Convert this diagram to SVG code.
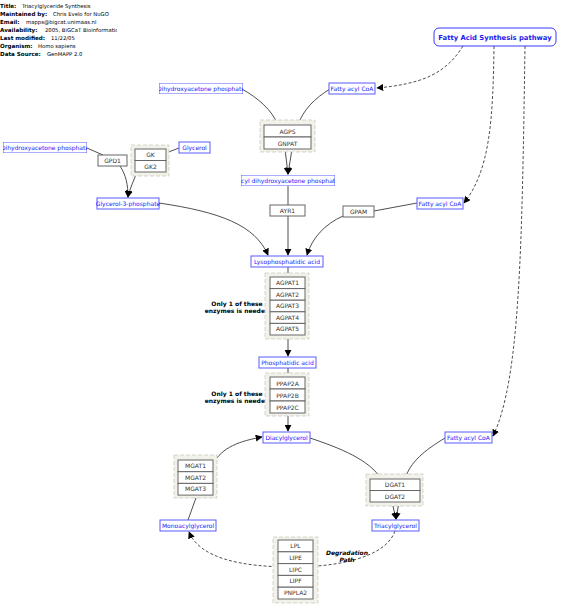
<svg xmlns="http://www.w3.org/2000/svg" width="568" height="612" viewBox="0 0 568 612">
<style>
text{font-family:"DejaVu Sans","Liberation Sans",sans-serif}
.hd{font-size:5.3px;fill:#000}
.hb{font-size:5.6px;font-weight:bold;fill:#000}
.met rect{fill:#fff;stroke:#5a5aff;stroke-width:1}
.met text{font-size:6px;fill:#1a1aff;text-anchor:middle}
.gene rect{fill:#fff;stroke:#666;stroke-width:1}
.gene text{font-size:6px;fill:#333;text-anchor:middle}
.grp{fill:#f2f2ea;stroke:#c4c4bc;stroke-width:0.7;stroke-dasharray:4,2}
.note{font-size:6px;font-weight:bold;fill:#000;text-anchor:middle}
.c{fill:none;stroke:#222;stroke-width:0.8}
.d{fill:none;stroke:#222;stroke-width:0.8;stroke-dasharray:3,2}
</style>
<defs>
<marker id="ar" viewBox="0 0 10 10" refX="9" refY="5" markerWidth="7" markerHeight="7" markerUnits="userSpaceOnUse" orient="auto">
<path d="M0,0 L10,5 L0,10 z" fill="#000"/>
</marker>
<clipPath id="cHd"><rect x="0" y="0" width="117" height="60"/></clipPath>
<clipPath id="cDhap1"><rect x="159" y="83" width="84" height="11"/></clipPath>
<clipPath id="cDhap2"><rect x="3" y="142" width="84" height="11"/></clipPath>
<clipPath id="cAdhap"><rect x="241" y="175" width="94" height="11"/></clipPath>
</defs>

<g id="header" clip-path="url(#cHd)">
<text x="0" y="8" class="hb">Title:</text><text x="22" y="8" class="hd">Triacylglyceride Synthesis</text>
<text x="0" y="16" class="hb">Maintained by:</text><text x="53" y="16" class="hd">Chris Evelo for NuGO</text>
<text x="0" y="24" class="hb">Email:</text><text x="26" y="24" class="hd">mapps@bigcat.unimaas.nl</text>
<text x="0" y="32" class="hb">Availability:</text><text x="45" y="32" class="hd">2005, BiGCaT Bioinformatics</text>
<text x="0" y="40" class="hb">Last modified:</text><text x="51" y="40" class="hd">11/22/05</text>
<text x="0" y="48" class="hb">Organism:</text><text x="38" y="48" class="hd">Homo sapiens</text>
<text x="0" y="56" class="hb">Data Source:</text><text x="47" y="56" class="hd">GenMAPP 2.0</text>
</g>

<g id="connectors">
<path class="c" d="M242,89 C258,98 272,110 278,125"/>
<path class="c" d="M330,89 C315,98 303,110 298,125"/>
<path class="c" d="M285,149 L288,174" marker-end="url(#ar)"/>
<path class="c" d="M292,149 L288,174" marker-end="url(#ar)"/>
<path class="c" d="M288,186 L288,205"/>
<path class="c" d="M288,216 L288,255" marker-end="url(#ar)"/>
<path class="c" d="M159,203 C220,212 255,225 268,255" marker-end="url(#ar)"/>
<path class="c" d="M417,203 L374,211"/>
<path class="c" d="M343,216 C325,224 312,238 307,255" marker-end="url(#ar)"/>
<path class="c" d="M87,148 L103,155"/>
<path class="c" d="M120,166 C126,175 128,185 128,197" marker-end="url(#ar)"/>
<path class="c" d="M137,172 C134,180 130,188 128,197" marker-end="url(#ar)"/>
<path class="c" d="M179,148 L166,153"/>
<path class="c" d="M288,267 L288,277"/>
<path class="c" d="M288,339 L288,356" marker-end="url(#ar)"/>
<path class="c" d="M288,368 L288,377"/>
<path class="c" d="M288,416 L288,431" marker-end="url(#ar)"/>
<path class="c" d="M213,464 C222,447 240,441 262,437" marker-end="url(#ar)"/>
<path class="c" d="M188,520 L197,495"/>
<path class="c" d="M310,438 C340,448 370,460 381,479"/>
<path class="c" d="M445,438 C425,450 410,462 405,479"/>
<path class="c" d="M392,502 L396,519" marker-end="url(#ar)"/>
<path class="c" d="M399,502 L396,519" marker-end="url(#ar)"/>
<path class="d" d="M395,531 C385,560 330,567 293,567 C240,567 200,558 189,532" marker-end="url(#ar)"/>
<path class="d" d="M463,46 C445,75 420,84 377,88" marker-end="url(#ar)"/>
<path class="d" d="M494,46 C493,120 490,170 464,203" marker-end="url(#ar)"/>
<path class="d" d="M525,46 C522,250 520,380 493,436" marker-end="url(#ar)"/>
</g>

<g id="fas">
<rect x="434" y="28" width="122" height="18" rx="5" fill="#fff" stroke="#3a3aff" stroke-width="1"/>
<text x="495" y="39.5" font-size="6.8" font-weight="bold" fill="#1a1aee" text-anchor="middle">Fatty Acid Synthesis pathway</text>
</g>

<g id="dhap1" class="met" clip-path="url(#cDhap1)"><rect x="159" y="83" width="84" height="11"/><text x="201" y="91">Dihydroxyacetone phosphate</text></g>
<g id="facoa1" class="met"><rect x="329" y="83" width="46" height="11"/><text x="352" y="91">Fatty acyl CoA</text></g>

<g id="agps_grp">
<rect class="grp" x="260" y="120" width="55" height="32"/>
<g id="agps" class="gene"><rect x="264" y="125" width="47" height="12"/><text x="287.5" y="133.5">AGPS</text></g>
<g id="gnpat" class="gene"><rect x="264" y="137" width="47" height="12"/><text x="287.5" y="145.5">GNPAT</text></g>
</g>

<g id="adhap" class="met" clip-path="url(#cAdhap)"><rect x="241" y="175" width="94" height="11"/><text x="288" y="183">Acyl dihydroxyacetone phosphate</text></g>

<g id="dhap2" class="met" clip-path="url(#cDhap2)"><rect x="3" y="142" width="84" height="11"/><text x="45" y="150">Dihydroxyacetone phosphate</text></g>
<g id="gpd1" class="gene"><rect x="98" y="155" width="29" height="11"/><text x="112.5" y="163">GPD1</text></g>
<g id="gk_grp">
<rect class="grp" x="131" y="145" width="38" height="31"/>
<g id="gk" class="gene"><rect x="135" y="149" width="31" height="11.5"/><text x="150.5" y="157">GK</text></g>
<g id="gk2" class="gene"><rect x="135" y="160.5" width="31" height="11.5"/><text x="150.5" y="168.5">GK2</text></g>
</g>
<g id="glycerol" class="met"><rect x="179" y="142" width="31" height="11"/><text x="194.5" y="150">Glycerol</text></g>
<g id="g3p" class="met"><rect x="97" y="198" width="62" height="11"/><text x="128" y="206">Glycerol-3-phosphate</text></g>

<g id="ayr1" class="gene"><rect x="270" y="205" width="35" height="11"/><text x="287.5" y="213">AYR1</text></g>
<g id="gpam" class="gene"><rect x="343" y="206" width="31" height="11"/><text x="358.5" y="214">GPAM</text></g>
<g id="facoa2" class="met"><rect x="417" y="198" width="46" height="11"/><text x="440" y="206">Fatty acyl CoA</text></g>

<g id="lpa" class="met"><rect x="251" y="256" width="72" height="11"/><text x="287" y="264">Lysophosphatidic acid</text></g>

<text class="note" x="237" y="306">Only 1 of these</text>
<text class="note" x="237" y="313">enzymes is needed</text>
<g id="agpat_grp">
<rect class="grp" x="265" y="273" width="44" height="66"/>
<g id="agpat1" class="gene"><rect x="270" y="277" width="35" height="11.6"/><text x="287.5" y="285">AGPAT1</text></g>
<g id="agpat2" class="gene"><rect x="270" y="288.6" width="35" height="11.6"/><text x="287.5" y="296.6">AGPAT2</text></g>
<g id="agpat3" class="gene"><rect x="270" y="300.2" width="35" height="11.6"/><text x="287.5" y="308.2">AGPAT3</text></g>
<g id="agpat4" class="gene"><rect x="270" y="311.8" width="35" height="11.6"/><text x="287.5" y="319.8">AGPAT4</text></g>
<g id="agpat5" class="gene"><rect x="270" y="323.4" width="35" height="11.6"/><text x="287.5" y="331.4">AGPAT5</text></g>
</g>

<g id="pa" class="met"><rect x="259" y="357" width="57" height="11"/><text x="287.5" y="365">Phosphatidic acid</text></g>

<text class="note" x="237" y="396">Only 1 of these</text>
<text class="note" x="237" y="403">enzymes is needed</text>
<g id="ppap_grp">
<rect class="grp" x="265" y="373" width="44" height="43"/>
<g id="ppap2a" class="gene"><rect x="270" y="377" width="35" height="12"/><text x="287.5" y="385.5">PPAP2A</text></g>
<g id="ppap2b" class="gene"><rect x="270" y="389" width="35" height="12"/><text x="287.5" y="397.5">PPAP2B</text></g>
<g id="ppap2c" class="gene"><rect x="270" y="401" width="35" height="12"/><text x="287.5" y="409.5">PPAP2C</text></g>
</g>

<g id="dag" class="met"><rect x="263" y="432" width="47" height="11"/><text x="286.5" y="440">Diacylglycerol</text></g>
<g id="facoa3" class="met"><rect x="445" y="432" width="47" height="11"/><text x="468.5" y="440">Fatty acyl CoA</text></g>

<g id="mgat_grp">
<rect class="grp" x="174" y="455" width="43" height="43"/>
<g id="mgat1" class="gene"><rect x="178" y="460" width="35" height="11.7"/><text x="195.5" y="468">MGAT1</text></g>
<g id="mgat2" class="gene"><rect x="178" y="471.7" width="35" height="11.7"/><text x="195.5" y="479.7">MGAT2</text></g>
<g id="mgat3" class="gene"><rect x="178" y="483.4" width="35" height="11.7"/><text x="195.5" y="491.4">MGAT3</text></g>
</g>

<g id="dgat_grp">
<rect class="grp" x="366" y="474" width="57" height="32"/>
<g id="dgat1" class="gene"><rect x="370" y="479" width="50" height="11.5"/><text x="395" y="487">DGAT1</text></g>
<g id="dgat2" class="gene"><rect x="370" y="490.5" width="50" height="11.5"/><text x="395" y="498.5">DGAT2</text></g>
</g>

<g id="mag" class="met"><rect x="160" y="520" width="56" height="11"/><text x="188" y="528">Monoacylglycerol</text></g>
<g id="tag" class="met"><rect x="372" y="520" width="47" height="11"/><text x="395.5" y="528">Triacylglycerol</text></g>

<g id="lipase_grp">
<rect class="grp" x="273" y="537" width="45" height="66"/>
<g id="lpl" class="gene"><rect x="278" y="540" width="35" height="11.8"/><text x="295.5" y="548">LPL</text></g>
<g id="lipe" class="gene"><rect x="278" y="551.8" width="35" height="11.8"/><text x="295.5" y="559.8">LIPE</text></g>
<g id="lipc" class="gene"><rect x="278" y="563.6" width="35" height="11.8"/><text x="295.5" y="571.6">LIPC</text></g>
<g id="lipf" class="gene"><rect x="278" y="575.4" width="35" height="11.8"/><text x="295.5" y="583.4">LIPF</text></g>
<g id="pnpla2" class="gene"><rect x="278" y="587.2" width="35" height="11.8"/><text x="295.5" y="595.2">PNPLA2</text></g>
</g>

<text class="note" x="347" y="555" font-style="italic">Degradation</text>
<text class="note" x="347" y="562" font-style="italic">Path</text>
</svg>
